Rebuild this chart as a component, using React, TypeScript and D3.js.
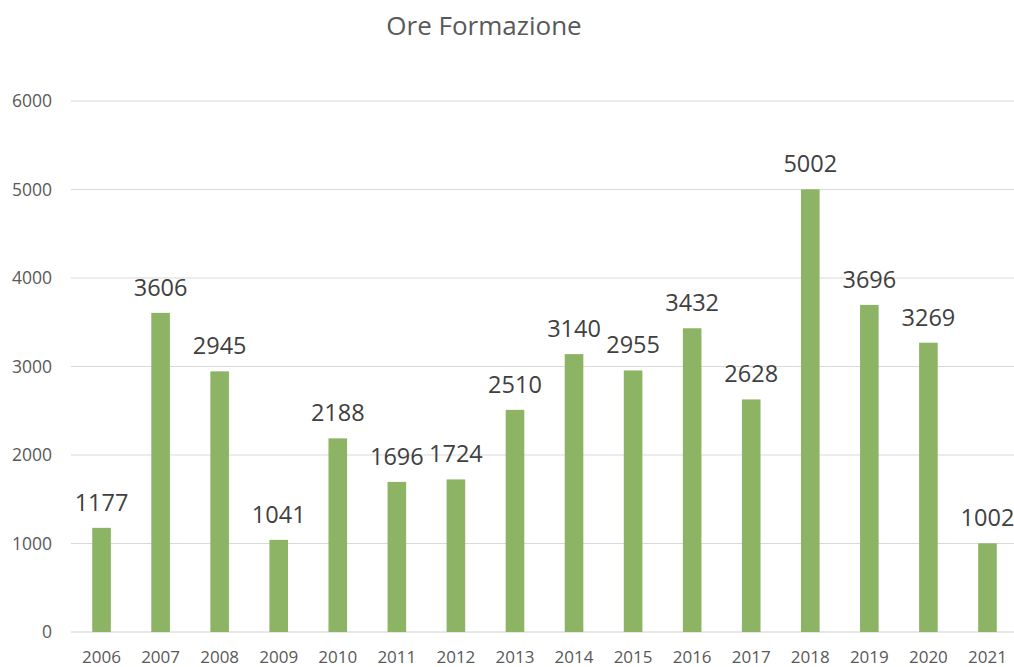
import React from "react";
import * as d3 from "d3";

const years = ["2006","2007","2008","2009","2010","2011","2012","2013","2014","2015","2016","2017","2018","2019","2020","2021"];
const hours = [1177,3606,2945,1041,2188,1696,1724,2510,3140,2955,3432,2628,5002,3696,3269,1002];
const yTicks = [0,1000,2000,3000,4000,5000,6000];
const title = "Ore Formazione";

export default function App() {
  const W = 1014, H = 667;
  const x = d3.scaleBand().domain(years).range([72, 1017]).paddingInner(0.685).paddingOuter(0.3425);
  const y = d3.scaleLinear().domain([0, 6000]).range([632, 101]);
  const font = "'Open Sans', sans-serif";
  return (
    <svg width={W} height={H} style={{ position: "absolute", left: 0, top: 0, background: "#fff" }}>
      <text x={484} y={35} textAnchor="middle" fontFamily={font} fontSize={26} fill="#595959">{title}</text>
      {yTicks.map(t => (
        <g key={t}>
          <line x1={71} x2={W} y1={y(t)} y2={y(t)} stroke={t === 0 ? "#d0d0d0" : "#d9d9d9"} strokeWidth={1} />
          <text x={52} y={y(t) + 6} textAnchor="end" fontFamily={font} fontSize={17.5} fill="#595959">{t}</text>
        </g>
      ))}
      {years.map((yr, i) => {
        const v = hours[i];
        const bx = x(yr)!;
        const bw = x.bandwidth();
        return (
          <g key={yr}>
            <rect x={bx} y={y(v)} width={bw} height={y(0) - y(v)} fill="#8db365" />
            <text x={bx + bw / 2} y={y(v) - 17} textAnchor="middle" fontFamily={font} fontSize={23.5} fill="#404040">{v}</text>
            <text x={bx + bw / 2} y={663} textAnchor="middle" fontFamily={font} fontSize={17} fill="#595959">{yr}</text>
          </g>
        );
      })}
    </svg>
  );
}
